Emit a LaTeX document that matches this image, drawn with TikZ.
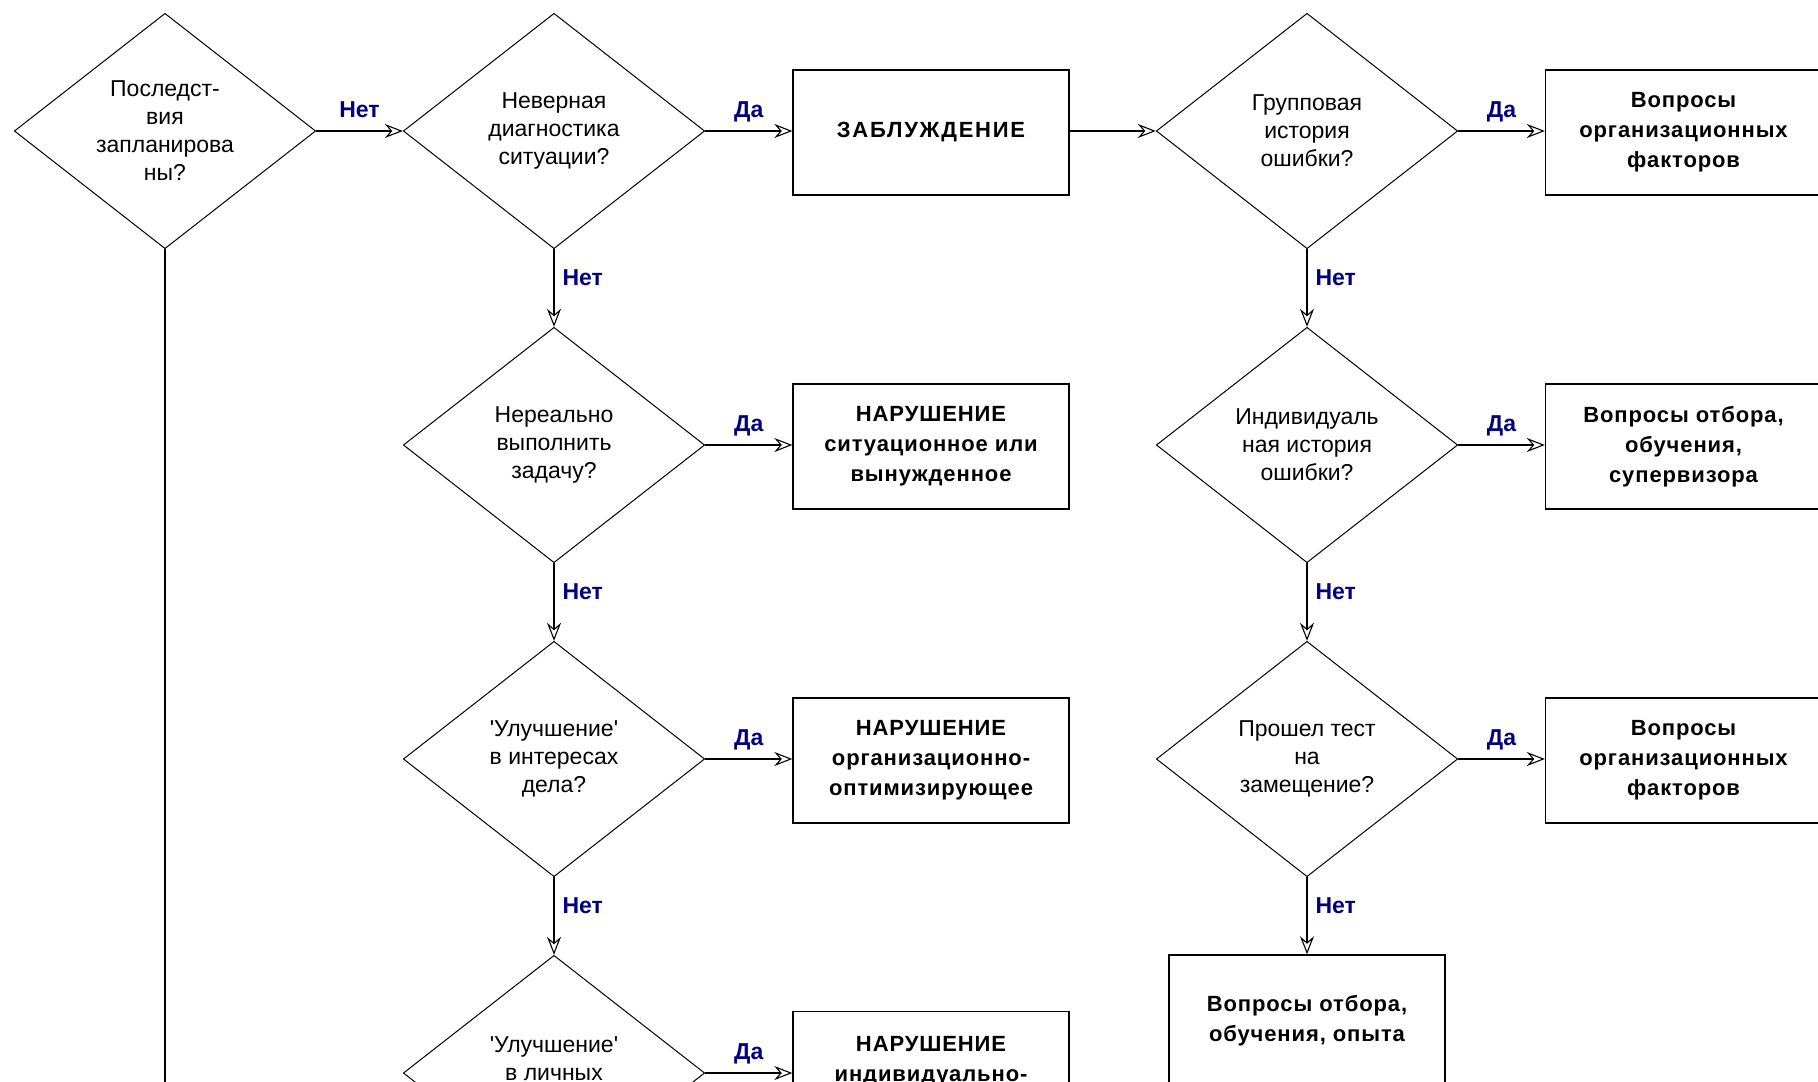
\documentclass[tikz,border=0pt]{standalone}
\usepackage{fontspec}
\setmainfont{Liberation Sans}
\newfontfamily\boxfont[LetterSpace=4]{Liberation Sans}
\newfontfamily\wideboxfont[LetterSpace=8]{Liberation Sans}
\usetikzlibrary{shapes.geometric,arrows.meta}
\definecolor{answerblue}{RGB}{0,0,128}

\begin{document}
\begin{tikzpicture}[x=0.5pt,y=-0.5pt,
  question/.style={diamond,draw,line width=0.5pt,minimum width=150.7pt,minimum height=117.7pt,
    aspect=1.28,inner sep=0pt,align=center,font=\fontsize{11.5}{14}\selectfont},
  outcome/.style={rectangle,draw,line width=0.7pt,minimum width=138pt,minimum height=62.5pt,
    inner sep=2pt,align=center,font=\boxfont\bfseries\fontsize{11}{15}\selectfont},
  flow/.style={line width=0.55pt,-{Stealth[open,length=9pt,width=7pt,inset=3pt]}},
  answer/.style={inner sep=0pt,text=answerblue,font=\bfseries\fontsize{11.5}{14}\selectfont},
  hlabel/.style={answer,anchor=base,pos=0.5,yshift=6.75pt},
  vlabel/.style={answer,anchor=base west,pos=0.47,xshift=4pt}
]
\useasboundingbox (0,0) rectangle (1818,1081);

% first row
\node[question] (q1) at (165,131) {Последст-\\вия\\запланирова\\ны?};
\node[question] (q2) at (554,131) {Неверная\\диагностика\\ситуации?};
\node[outcome]  (o1) at (931,132.5) {\wideboxfont\bfseries ЗАБЛУЖДЕНИЕ};
\node[question] (q3) at (1307,131) {Групповая\\история\\ошибки?};
\node[outcome]  (o2) at (1683.5,132.5) {Вопросы\\организационных\\факторов};

% second row
\node[question] (q4) at (554,445) {Нереально\\выполнить\\задачу?};
\node[outcome]  (o3) at (931,446.5) {НАРУШЕНИЕ\\ситуационное или\\вынужденное};
\node[question] (q5) at (1307,445) {Индивидуаль\\ная история\\ошибки?};
\node[outcome]  (o4) at (1683.5,446.5) {Вопросы отбора,\\обучения,\\супервизора};

% third row
\node[question] (q6) at (554,759) {\textquotesingle Улучшение\textquotesingle\\в интересах\\дела?};
\node[outcome]  (o5) at (931,760.5) {НАРУШЕНИЕ\\организационно-\\оптимизирующее};
\node[question] (q7) at (1307,759) {Прошел тест\\на\\замещение?};
\node[outcome]  (o6) at (1683.5,760.5) {Вопросы\\организационных\\факторов};

% fourth row
\node[question] (q8) at (554,1073) {\textquotesingle Улучшение\textquotesingle\\в личных\\\mbox{}};
\node[outcome]  (o7) at (931,1074) {НАРУШЕНИЕ\\индивидуально-\\\mbox{}};
\node[outcome,minimum height=66pt] (o8) at (1307,1021) {Вопросы отбора,\\обучения, опыта};

\coordinate (q1tail) at (165,1095);

% connectors
\draw[line width=0.65pt] (q1.south) -- (q1tail);
\draw[flow] (q1.east) -- node[hlabel]{Нет} (q2.west);
\draw[flow] (q2.east) -- node[hlabel]{Да} (q2.east -| o1.west);
\draw[flow] (q3.west -| o1.east) -- (q3.west);
\draw[flow] (q3.east) -- node[hlabel]{Да} (q3.east -| o2.west);

\draw[flow] (q2.south) -- node[vlabel]{Нет} (q4.north);
\draw[flow] (q4.east) -- node[hlabel]{Да} (q4.east -| o3.west);
\draw[flow] (q3.south) -- node[vlabel]{Нет} (q5.north);
\draw[flow] (q5.east) -- node[hlabel]{Да} (q5.east -| o4.west);

\draw[flow] (q4.south) -- node[vlabel]{Нет} (q6.north);
\draw[flow] (q6.east) -- node[hlabel]{Да} (q6.east -| o5.west);
\draw[flow] (q5.south) -- node[vlabel]{Нет} (q7.north);
\draw[flow] (q7.east) -- node[hlabel]{Да} (q7.east -| o6.west);

\draw[flow] (q6.south) -- node[vlabel]{Нет} (q8.north);
\draw[flow] (q8.east) -- node[hlabel]{Да} (q8.east -| o7.west);
\draw[flow] (q7.south) -- node[vlabel]{Нет} (o8.north);
\end{tikzpicture}
\end{document}
